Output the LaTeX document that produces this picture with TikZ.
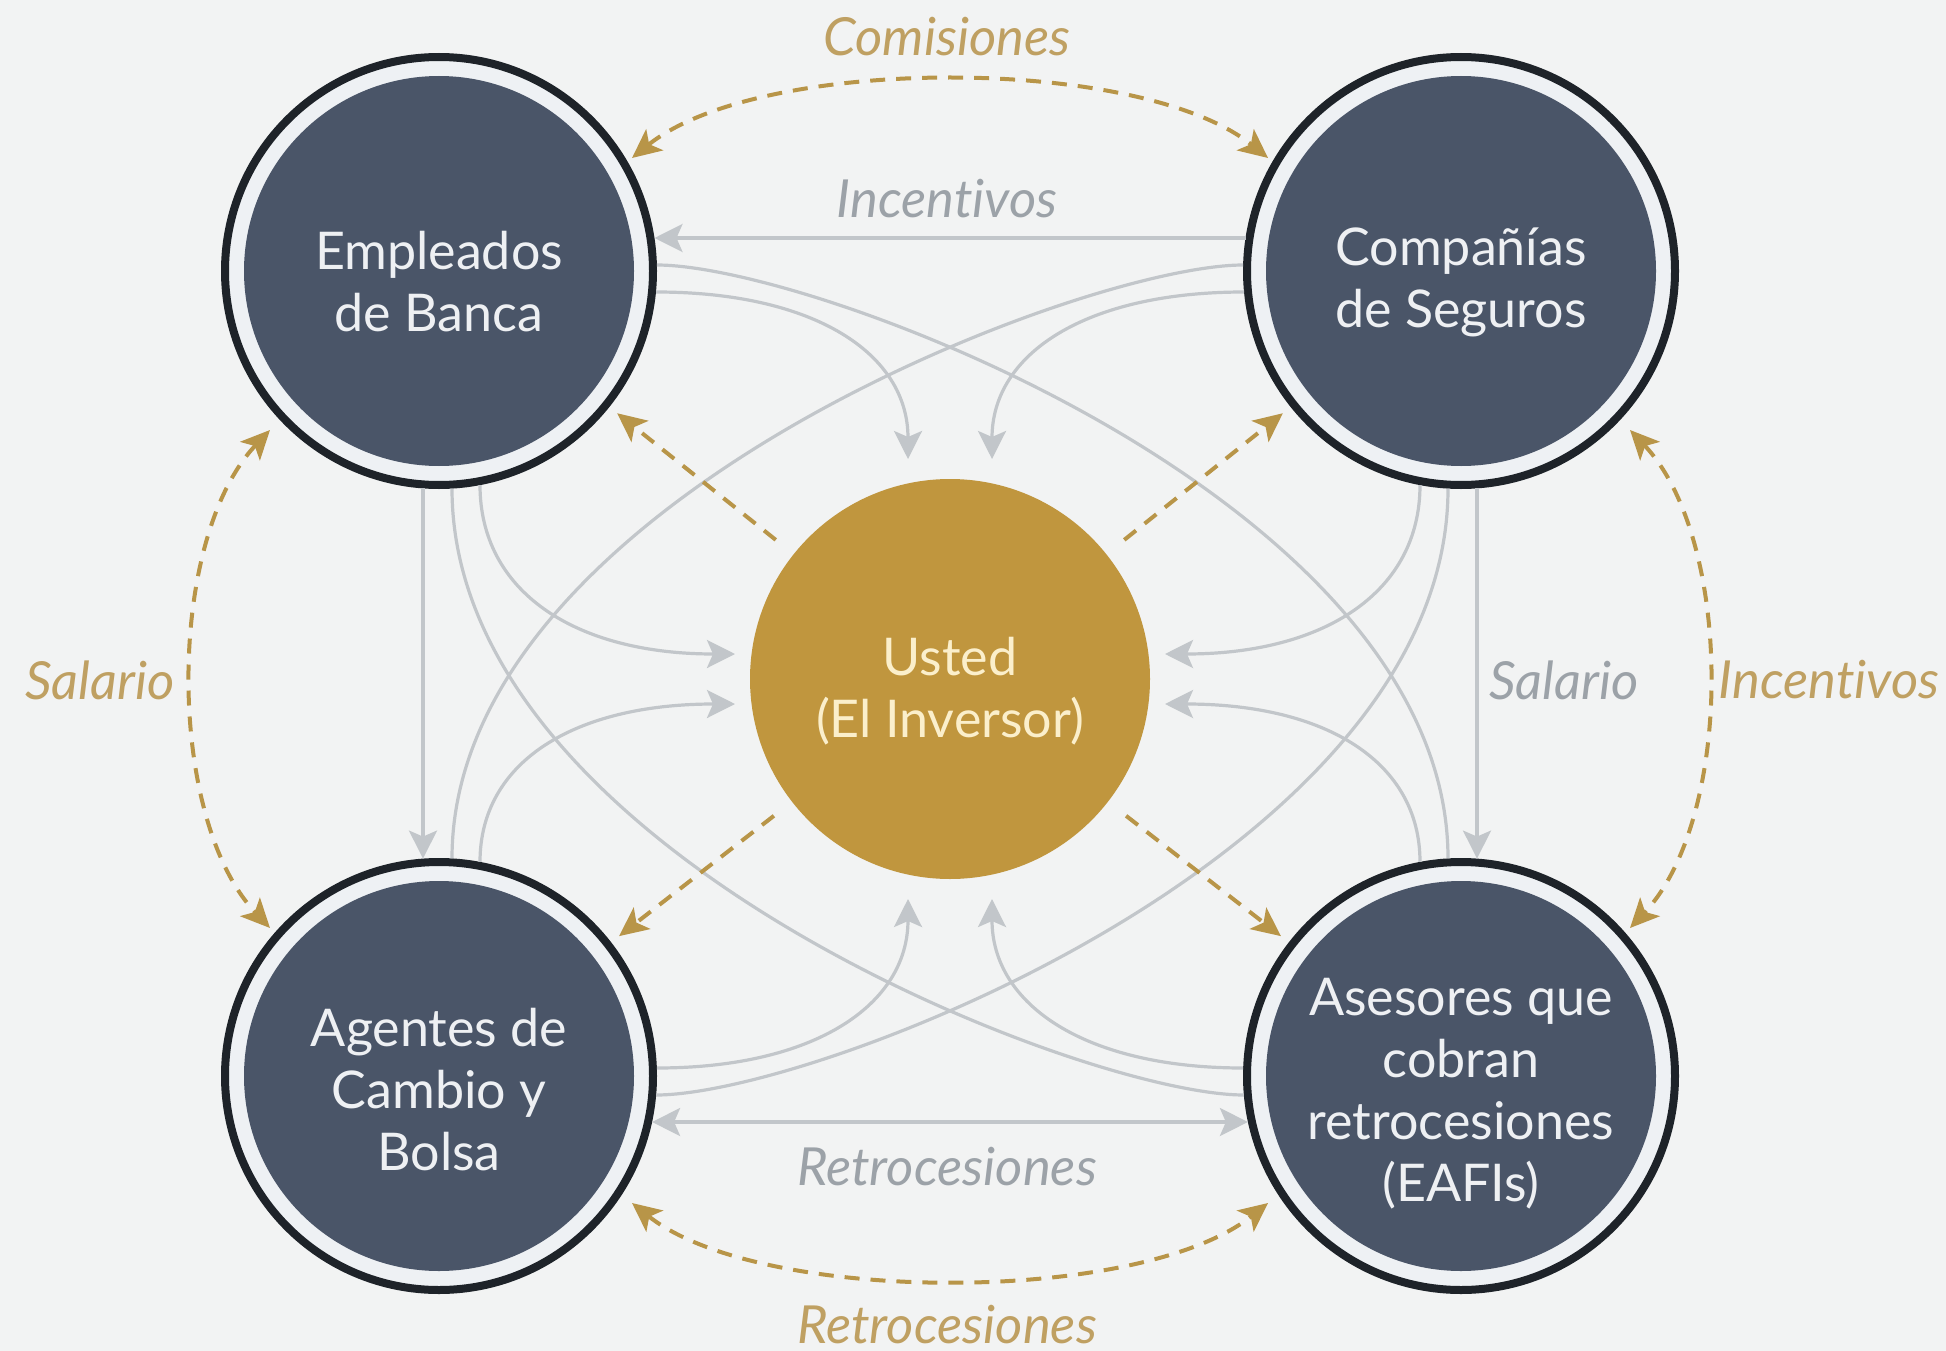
\documentclass[tikz,border=0pt]{standalone}
\usepackage{fontspec}
\setmainfont{Lato}[Ligatures=NoCommon]
\usetikzlibrary{arrows.meta,calc}
\definecolor{bgc}{HTML}{F2F3F3}
\definecolor{slate}{HTML}{4A5568}
\definecolor{ringc}{HTML}{1E2329}
\definecolor{gapc}{HTML}{EEF1F4}
\definecolor{goldc}{HTML}{C0963E}
\definecolor{goldline}{HTML}{B89548}
\definecolor{goldtext}{HTML}{BFA062}
\definecolor{grayline}{HTML}{C2C6CA}
\definecolor{graytext}{HTML}{9CA2A8}
\definecolor{nodetext}{HTML}{EEF0F3}
\definecolor{creamtext}{HTML}{FBEFCB}
\begin{document}
\begin{tikzpicture}[x=1pt,y=-1pt,
  actor/.style={circle, minimum size=428pt, inner sep=0pt, outer sep=4pt,
    line width=8pt, draw=ringc, fill=gapc,
    path picture={\fill[slate] (path picture bounding box.center) circle[radius=195pt];}},
  actortext/.style={inner sep=0pt, text=nodetext, align=center,
    font=\fontsize{52}{62}\selectfont},
  you/.style={circle, minimum size=400pt, inner sep=0pt, fill=goldc},
  youtext/.style={inner sep=0pt, text=creamtext, align=center,
    font=\fontsize{52}{62}\selectfont},
  goldlbl/.style={text=goldtext, font=\fontsize{52.5}{60}\selectfont\itshape},
  graylbl/.style={text=graytext, font=\fontsize{52.5}{60}\selectfont\itshape},
  conn/.style={draw=grayline, line width=3.2pt},
  gtip/.tip={Stealth[length=28pt,width=28pt,inset=6pt]},
  dtip/.tip={Stealth[length=29pt,width=27pt,inset=7pt]},
  gdash/.style={draw=goldline, line width=4pt, dash pattern=on 15pt off 11pt}]

\useasboundingbox (0,0) rectangle (1946,1351);
\fill[bgc] (0,0) rectangle (1946,1351);

% the five parties
\node[actor] (tl) at (439,271) {};
\node[actor] (tr) at (1461,271) {};
\node[actor] (bl) at (439,1076) {};
\node[actor] (br) at (1461,1076) {};
\node[you] (c) at (950,679) {};
\node[actortext] (tlT) at ($(tl)+(0,11)$) {Empleados\\de Banca};
\node[actortext] (trT) at ($(tr)+(0,11)$) {Compañías\\de Seguros};
\node[actortext] (blT) at ($(bl)+(0,14)$) {Agentes de\\Cambio y\\Bolsa};
\node[actortext] (brT) at ($(br)+(0,18)$) {Asesores que\\cobran\\retrocesiones\\(EAFIs)};
\node[youtext] (cT) at ($(c)+(0,12)$) {Usted\\(El Inversor)};

% attachment points on the rings
\coordinate (tlE1) at ($(tl)+(215.5,-33)$);
\coordinate (tlE2) at ($(tl)+(217.9,-6)$);
\coordinate (tlE3) at ($(tl)+(217.0,21)$);
\coordinate (tlS1) at ($(tl)+(-16,217.4)$);
\coordinate (tlS2) at ($(tl)+(13,217.6)$);
\coordinate (tlS3) at ($(tl)+(41,214.1)$);
\coordinate (trW1) at ($(tr)+(-215.5,-33)$);
\coordinate (trW2) at ($(tr)+(-217.9,-6)$);
\coordinate (trW3) at ($(tr)+(-217.0,21)$);
\coordinate (trS1) at ($(tr)+(16,217.4)$);
\coordinate (trS2) at ($(tr)+(-13,217.6)$);
\coordinate (trS3) at ($(tr)+(-41,214.1)$);
\coordinate (blE1) at ($(bl)+(213.1,46)$);
\coordinate (blE2) at ($(bl)+(217.2,19)$);
\coordinate (blE3) at ($(bl)+(217.85,-8)$);
\coordinate (blN1) at ($(bl)+(-16,-217.4)$);
\coordinate (blN2) at ($(bl)+(13,-217.6)$);
\coordinate (blN3) at ($(bl)+(41,-214.1)$);
\coordinate (brW1) at ($(br)+(-213.1,46)$);
\coordinate (brW2) at ($(br)+(-217.2,19)$);
\coordinate (brW3) at ($(br)+(-217.85,-8)$);
\coordinate (brN1) at ($(br)+(16,-217.4)$);
\coordinate (brN2) at ($(br)+(-13,-217.6)$);
\coordinate (brN3) at ($(br)+(-41,-214.1)$);
% arrow tips around the investor
\coordinate (cTL) at ($(c)+(-42,-220)$);
\coordinate (cTR) at ($(c)+(42,-220)$);
\coordinate (cLU) at ($(c)+(-215,-25)$);
\coordinate (cLL) at ($(c)+(-215,25)$);
\coordinate (cRU) at ($(c)+(215,-25)$);
\coordinate (cRL) at ($(c)+(215,25)$);
\coordinate (cBL) at ($(c)+(-42,220)$);
\coordinate (cBR) at ($(c)+(42,220)$);

% straight grey flows
\draw[conn,-gtip] (trW1) -- (tlE1);
\draw[conn,-gtip] (tlS1) -- (blN1);
\draw[conn,-gtip] (trS1) -- (brN1);
\draw[conn,gtip-gtip] (blE1) -- (brW1);

% long crossing curves
\draw[conn] (tlE2) .. controls +(158,0) and +(0,-356) .. (brN2);
\draw[conn] (trW2) .. controls +(-158,0) and +(0,-356) .. (blN2);
\draw[conn] (brW2) .. controls +(-158,0) and +(0,364) .. (tlS2);
\draw[conn] (blE2) .. controls +(158,0) and +(0,364) .. (trS2);

% curves into the investor
\draw[conn,-gtip] (tlE3) .. controls +(159,0) and +(0,-105) .. (cTL);
\draw[conn,-gtip] (trW3) .. controls +(-159,0) and +(0,-105) .. (cTR);
\draw[conn,-gtip] (tlS3) .. controls +(0,106) and +(-161,0) .. (cLU);
\draw[conn,-gtip] (blN3) .. controls +(0,-100) and +(-161,0) .. (cLL);
\draw[conn,-gtip] (trS3) .. controls +(0,106) and +(161,0) .. (cRU);
\draw[conn,-gtip] (brN3) .. controls +(0,-100) and +(161,0) .. (cRL);
\draw[conn,-gtip] (blE3) .. controls +(159,0) and +(0,105) .. (cBL);
\draw[conn,-gtip] (brW3) .. controls +(-159,0) and +(0,105) .. (cBR);

% gold dashed flows
\coordinate (gA) at ($(tl)+(193,-113)$);
\coordinate (gB) at ($(tr)+(-193,-113)$);
\coordinate (gC) at ($(bl)+(193,127)$);
\coordinate (gD) at ($(br)+(-193,127)$);
\coordinate (gE) at ($(tl)+(-169,159)$);
\coordinate (gF) at ($(bl)+(-169,-148)$);
\coordinate (gG) at ($(tr)+(169,159)$);
\coordinate (gH) at ($(br)+(169,-148)$);
\draw[gdash,dtip-dtip] (gA) .. controls (760,55) and (1140,55) .. (gB);
\draw[gdash,dtip-dtip] (gC) .. controls (760,1305) and (1140,1305) .. (gD);
\draw[gdash,dtip-dtip] (gE) .. controls (166,540) and (166,818) .. (gF);
\draw[gdash,dtip-dtip] (gG) .. controls (1734,540) and (1734,818) .. (gH);
\draw[gdash,-dtip] ($(c)!223pt!(tl)$) -- ($(tl)!228pt!(c)$);
\draw[gdash,-dtip] ($(c)!223pt!(tr)$) -- ($(tr)!228pt!(c)$);
\draw[gdash,-dtip] ($(c)!223pt!(bl)$) -- ($(bl)!228pt!(c)$);
\draw[gdash,-dtip] ($(c)!223pt!(br)$) -- ($(br)!228pt!(c)$);

% labels
\node[goldlbl] (lcom) at (947,37) {Comisiones};
\node[graylbl] (linc) at (947,199) {Incentivos};
\node[goldlbl] (lsal) at (100,680) {Salario};
\node[graylbl] (lsal2) at (1564,680) {Salario};
\node[goldlbl] (linc2) at (1829,680) {Incentivos};
\node[graylbl] (lret) at (947,1167) {Retrocesiones};
\node[goldlbl] (lret2) at (947,1325) {Retrocesiones};
\end{tikzpicture}
\end{document}
